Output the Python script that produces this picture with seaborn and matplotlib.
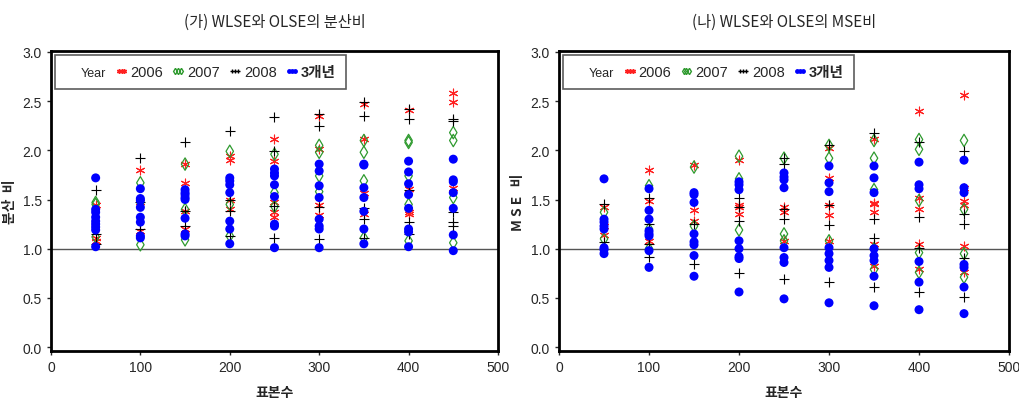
import matplotlib
matplotlib.use('Agg')
import matplotlib.pyplot as plt
from matplotlib.lines import Line2D
import pandas as pd
import seaborn as sns

sns.set_theme(style="white")
plt.rcParams['font.family'] = ['Noto Sans CJK KR', 'DejaVu Sans']
narrow = ['Liberation Sans', 'Noto Sans CJK KR']

sample_sizes = [50, 100, 150, 200, 250, 300, 350, 400, 450]
series_names = ["2006", "2007", "2008", "3개년"]

# (가) variance ratio, one list per sample size
var_2006 = [[1.44, 1.11, 1.08], [1.80, 1.47, 1.18], [1.86, 1.67, 1.38, 1.20],
            [1.94, 1.90, 1.50, 1.40], [2.12, 1.89, 1.47, 1.37, 1.32],
            [2.35, 2.01, 1.44, 1.34], [2.47, 2.12, 1.57, 1.35],
            [2.41, 1.61, 1.37, 1.35], [2.58, 2.49, 1.62]]
var_2007 = [[1.47, 1.45, 1.12], [1.67, 1.47, 1.04], [1.86, 1.40, 1.09],
            [1.99, 1.45, 1.13], [1.96, 1.57, 1.43], [2.05, 1.98, 1.74, 1.58],
            [2.10, 1.98, 1.69, 1.11], [2.10, 2.08, 1.74, 1.45, 1.08],
            [2.18, 2.10, 1.52, 1.06]]
var_2008 = [[1.60, 1.15, 1.05], [1.92, 1.47, 1.20], [2.08, 1.38, 1.23],
            [2.20, 1.50, 1.38, 1.13], [2.34, 1.99, 1.43, 1.11],
            [2.37, 2.25, 1.42, 1.10], [2.49, 2.35, 1.41, 1.30, 1.11],
            [2.42, 2.32, 1.60, 1.27, 1.15], [2.32, 2.30, 1.37, 1.27, 1.23]]
var_all = [[1.72, 1.40, 1.37, 1.32, 1.28, 1.25, 1.22, 1.19, 1.02],
           [1.61, 1.51, 1.49, 1.42, 1.32, 1.27, 1.13, 1.11],
           [1.60, 1.57, 1.55, 1.52, 1.50, 1.31, 1.15, 1.13],
           [1.72, 1.69, 1.65, 1.57, 1.28, 1.20, 1.05],
           [1.81, 1.77, 1.74, 1.65, 1.53, 1.25, 1.23, 1.01],
           [1.86, 1.79, 1.64, 1.52, 1.30, 1.23, 1.20, 1.01],
           [1.86, 1.85, 1.62, 1.52, 1.38, 1.20, 1.05],
           [1.89, 1.78, 1.66, 1.55, 1.41, 1.20, 1.17, 1.02],
           [1.91, 1.70, 1.68, 1.57, 1.41, 1.14, 0.98]]

# (나) MSE ratio
mse_2006 = [[1.42, 1.23, 1.14], [1.80, 1.48, 1.08], [1.85, 1.39, 1.28],
            [1.90, 1.44, 1.42, 1.35], [1.42, 1.37, 1.08],
            [2.02, 1.72, 1.44, 1.34, 1.08], [2.12, 1.46, 1.45, 1.37, 1.05, 0.82],
            [2.40, 1.52, 1.40, 1.05, 0.79], [2.56, 1.62, 1.48, 1.44, 1.03, 0.76]]
mse_2007 = [[1.37, 1.10], [1.64, 1.20, 1.00], [1.83, 1.23], [1.94, 1.71, 1.19],
            [1.92, 1.15, 1.08], [2.05, 1.92, 1.08], [2.10, 1.92, 1.60, 1.00, 0.79],
            [2.11, 2.01, 1.49, 0.96, 0.76], [2.10, 1.40, 0.95, 0.71]]
mse_2008 = [[1.45, 1.07], [1.52, 1.25, 1.05, 0.92], [1.25, 0.84],
            [1.52, 1.42, 1.28, 0.75], [1.92, 1.86, 1.40, 1.30, 0.69],
            [2.05, 1.44, 1.24, 0.66], [2.18, 1.30, 1.11, 0.61],
            [2.08, 1.32, 1.01, 0.56], [1.99, 1.35, 1.25, 0.91, 0.51]]
mse_all = [[1.71, 1.30, 1.27, 1.23, 1.20, 1.01, 0.99, 0.95],
           [1.61, 1.39, 1.30, 1.18, 1.15, 1.13, 0.98, 0.81],
           [1.57, 1.55, 1.47, 1.15, 1.07, 1.04, 0.93, 0.72],
           [1.68, 1.65, 1.60, 1.08, 1.00, 0.92, 0.90, 0.56],
           [1.77, 1.73, 1.70, 1.62, 1.01, 0.91, 0.86, 0.49],
           [1.84, 1.67, 1.58, 1.01, 0.95, 0.88, 0.81, 0.45],
           [1.84, 1.72, 1.57, 1.00, 0.93, 0.88, 0.72, 0.42],
           [1.88, 1.65, 1.61, 0.87, 0.66, 0.38],
           [1.90, 1.62, 1.57, 0.84, 0.81, 0.61, 0.34]]


def to_long(series_lists):
    rows = []
    for name, lists in zip(series_names, series_lists):
        for n, vals in zip(sample_sizes, lists):
            for v in vals:
                rows.append({'n': n, 'value': v, 'series': name})
    return pd.DataFrame(rows)


df_var = to_long([var_2006, var_2007, var_2008, var_all])
df_mse = to_long([mse_2006, mse_2007, mse_2008, mse_all])

styles = {
    "2006": dict(marker=(6, 2, 0), color='#ff2020', s=40, linewidth=0.8),
    "2007": dict(marker='d', facecolors='none', edgecolors='#2e9a2e', s=40, linewidth=0.9),
    "2008": dict(marker='+', color='black', s=55, linewidth=0.8),
    "3개년": dict(marker='o', color='#0000ff', s=42, edgecolor='none'),
}

fig = plt.figure(figsize=(10.19, 4.06), dpi=100)
ax1 = fig.add_axes([0.050, 0.133, 0.4387, 0.739])
ax2 = fig.add_axes([0.5486, 0.133, 0.4416, 0.739])

panels = [(ax1, df_var, "(가) WLSE와 OLSE의 분산비", "분산  비"),
          (ax2, df_mse, "(나) WLSE와 OLSE의 MSE비", "M S E   비")]

for ax, data, title, ylab in panels:
    ax.axhline(1.0, color='#555555', linewidth=1.0, zorder=1)
    for name in series_names:
        sub = data[data['series'] == name]
        sns.scatterplot(data=sub, x='n', y='value', ax=ax, legend=False,
                        zorder=3, **styles[name])
    ax.set_xlim(0, 500)
    ax.set_ylim(-0.04, 3.01)
    ax.set_xticks(range(0, 501, 100))
    ax.set_yticks([0.0, 0.5, 1.0, 1.5, 2.0, 2.5, 3.0])
    ax.set_yticklabels([f"{t:.1f}" for t in ax.get_yticks()])
    ax.tick_params(axis='both', labelsize=10, length=3, direction='out',
                   left=True, bottom=True, width=1)
    for lab in ax.get_xticklabels() + ax.get_yticklabels():
        lab.set_family(narrow)
    for sp in ax.spines.values():
        sp.set_linewidth(2)
        sp.set_color('black')
    ax.set_title(title, fontsize=11, pad=18)
    ax.set_xlabel("표본수", fontsize=10, fontweight='bold', labelpad=8)
    ax.set_ylabel(ylab, fontsize=10, fontweight='bold', labelpad=4)

    handles = [Line2D([], [], linestyle='none', marker=None)]
    labels = ["Year"]
    for name in series_names:
        st = styles[name]
        if name == "2007":
            h = Line2D([], [], linestyle='none', marker='d', markerfacecolor='none',
                       markeredgecolor='#2e9a2e', markersize=3.2)
        elif name == "3개년":
            h = Line2D([], [], linestyle='none', marker='o', color='#0000ff',
                       markersize=3.5, markeredgewidth=0)
        else:
            h = Line2D([], [], linestyle='none', marker=st['marker'],
                       color=st['color'], markersize=3.5)
        handles.append(h)
        labels.append(name)
    leg = ax.legend(handles, labels, ncol=5, loc='upper left', numpoints=3,
                    handlelength=1.0, handletextpad=0.1, columnspacing=0.55,
                    prop={'family': narrow, 'size': 10.5},
                    frameon=True, fancybox=False,
                    borderaxespad=0.25, borderpad=0.7)
    leg.get_frame().set_edgecolor('#333333')
    leg.get_frame().set_linewidth(1.2)
    texts = leg.get_texts()
    texts[0].set_fontsize(9)
    texts[-1].set_fontweight('bold')

fig.savefig("out.png", dpi=100)
